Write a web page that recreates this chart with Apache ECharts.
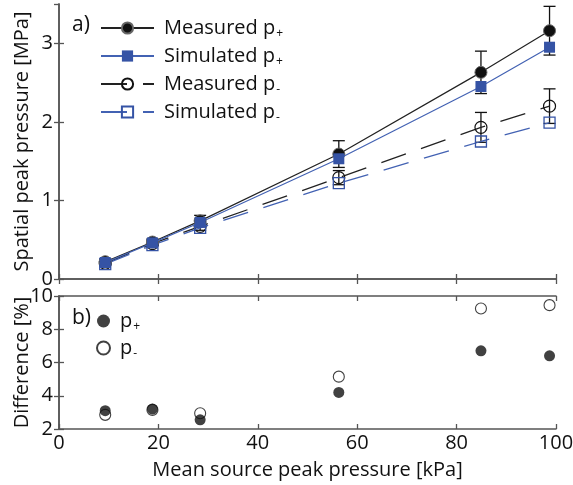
<!DOCTYPE html>
<html><head><meta charset="utf-8">
<script src="https://cdn.jsdelivr.net/npm/echarts@6/dist/echarts.min.js"></script>
<style>html,body{margin:0;padding:0;background:#fff}#c{width:573px;height:485px}</style>
</head><body><div id="c"></div>
<script>
// ---- data ----
const xVals = [9.3, 18.8, 28.4, 56.3, 84.9, 98.7];
const measPlus = [0.22, 0.47, 0.74, 1.59, 2.63, 3.16];
const simPlus = [0.21, 0.46, 0.72, 1.53, 2.45, 2.95];
const measMinus = [0.20, 0.45, 0.67, 1.29, 1.93, 2.20];
const simMinus = [0.19, 0.43, 0.65, 1.22, 1.75, 1.99];
const measPlusErr = [0.03, 0.04, 0.07, 0.17, 0.27, 0.31];
const measMinusErr = [0.02, 0.03, 0.05, 0.09, 0.19, 0.22];
const diffPlus = [3.1, 3.2, 2.55, 4.2, 6.7, 6.4];
const diffMinus = [2.85, 3.15, 2.95, 5.15, 9.25, 9.45];
const xTicks = [0, 20, 40, 60, 80, 100];
const topYTicks = [0, 1, 2, 3];
const botYTicks = [2, 4, 6, 8, 10];

const FONT = 'Open Sans';
const FS = 20;
const BLUE = '#3553a5';
const LBLUE = '#4362b3';
const AX = '#555';
const pair = (xs, ys) => xs.map((x, i) => [x, ys[i]]);
const errData = (ys, es) => xVals.map((x, i) => [x, ys[i] - es[i], ys[i] + es[i]]);

function errRender(params, api) {
  const x = api.value(0);
  const lo = api.coord([x, api.value(1)]);
  const hi = api.coord([x, api.value(2)]);
  const w = 6;
  const st = { stroke: '#111', lineWidth: 1.3 };
  return { type: 'group', children: [
    { type: 'line', shape: { x1: lo[0], y1: lo[1], x2: hi[0], y2: hi[1] }, style: st },
    { type: 'line', shape: { x1: lo[0] - w, y1: lo[1], x2: lo[0] + w, y2: lo[1] }, style: st },
    { type: 'line', shape: { x1: hi[0] - w, y1: hi[1], x2: hi[0] + w, y2: hi[1] }, style: st }
  ]};
}

const axLine = { show: true, lineStyle: { color: AX, width: 1.5 } };
const tick = { show: true, inside: true, length: 5, lineStyle: { color: AX, width: 1.3 } };
const lbl = { fontFamily: FONT, fontSize: FS, color: '#111' };

function xAx(grid, pos, labels, name) {
  return { type: 'value', gridIndex: grid, position: pos, min: 0, max: 100, interval: 20,
    axisLine: axLine, axisTick: tick, splitLine: { show: false },
    axisLabel: Object.assign({ show: labels, margin: 4 }, lbl),
    name: name || '', nameLocation: 'middle', nameGap: 31, nameMoveOverlap: false,
    nameTextStyle: { fontFamily: FONT, fontSize: FS, color: '#111' } };
}
function yAx(grid, pos, min, max, interval, labels, name, gap) {
  return { type: 'value', gridIndex: grid, position: pos, min: min, max: max, interval: interval,
    axisLine: axLine, axisTick: tick, splitLine: { show: false },
    axisLabel: Object.assign({ show: labels, margin: 6, showMaxLabel: max !== 3.5 }, lbl),
    name: name || '', nameLocation: 'middle', nameGap: gap || 30, nameRotate: 90, nameMoveOverlap: false,
    nameTextStyle: { fontFamily: FONT, fontSize: FS, color: '#111' } };
}

const rich = {
  a: { fontFamily: FONT, fontSize: FS, color: '#111', padding: [0, 0, 0, 5] },
  s: { fontFamily: FONT, fontSize: 12, color: '#111', padding: [12, 0, 0, 1] }
};
const fmt = n => {
  const m = n.match(/^(.*p)(.)$/);
  return '{a|' + m[1] + '}{s|' + m[2] + '}';
};

const chart = echarts.init(document.getElementById('c'), null, { renderer: 'canvas' });
chart.setOption({
  animation: false,
  backgroundColor: '#fff',
  title: [
    { text: 'a)', left: 67, top: 10, textStyle: { fontFamily: FONT, fontSize: 21, fontWeight: 'normal', color: '#111' } },
    { text: 'b)', left: 67, top: 303, textStyle: { fontFamily: FONT, fontSize: 21, fontWeight: 'normal', color: '#111' } }
  ],
  grid: [
    { left: 59, right: 17, top: 4, height: 275, outerBoundsMode: 'none', containLabel: false },
    { left: 59, right: 17, top: 296, height: 133, outerBoundsMode: 'none', containLabel: false }
  ],
  xAxis: [
    xAx(0, 'bottom', false), xAx(0, 'top', false),
    xAx(1, 'bottom', true, 'Mean source peak pressure [kPa]'), xAx(1, 'top', false)
  ],
  yAxis: [
    yAx(0, 'left', 0, 3.5, 1, true, 'Spatial peak pressure [MPa]', 27), yAx(0, 'right', 0, 3.5, 1, false),
    yAx(1, 'left', 2, 10, 2, true, 'Difference [%]', 27), yAx(1, 'right', 2, 10, 2, false)
  ],
  legend: [
    { data: ['Measured p+', 'Simulated p+', 'Measured p-', 'Simulated p-'],
      orient: 'vertical', left: 95, top: 12, itemWidth: 53, itemHeight: 14, itemGap: 5,
      formatter: fmt, textStyle: { rich: rich, lineHeight: 22 } },
    { data: ['p+', 'p-'], orient: 'vertical', left: 91, top: 305, itemWidth: 13, itemHeight: 13, itemGap: 4,
      formatter: fmt, textStyle: { rich: rich, lineHeight: 22 } }
  ],
  series: [
    { type: 'custom', xAxisIndex: 0, yAxisIndex: 0, renderItem: errRender, data: errData(measPlus, measPlusErr), z: 1, silent: true },
    { type: 'custom', xAxisIndex: 0, yAxisIndex: 0, renderItem: errRender, data: errData(measMinus, measMinusErr), z: 1, silent: true },
    { name: 'Measured p-', type: 'line', xAxisIndex: 0, yAxisIndex: 0, data: pair(xVals, measMinus),
      symbol: 'circle', symbolSize: 12,
      itemStyle: { color: 'rgba(0,0,0,0)', borderColor: '#111', borderWidth: 1.2 },
      lineStyle: { color: '#222', width: 1.3, type: [26, 16] }, z: 2 },
    { name: 'Simulated p-', type: 'line', xAxisIndex: 0, yAxisIndex: 0, data: pair(xVals, simMinus),
      symbol: 'rect', symbolSize: 11,
      itemStyle: { color: 'rgba(0,0,0,0)', borderColor: BLUE, borderWidth: 1.3 },
      lineStyle: { color: LBLUE, width: 1.3, type: [26, 16] }, z: 3 },
    { name: 'Measured p+', type: 'line', xAxisIndex: 0, yAxisIndex: 0, data: pair(xVals, measPlus),
      symbol: 'circle', symbolSize: 12,
      itemStyle: { color: '#111', borderColor: '#666', borderWidth: 1 },
      lineStyle: { color: '#222', width: 1.2 }, z: 4 },
    { name: 'Simulated p+', type: 'line', xAxisIndex: 0, yAxisIndex: 0, data: pair(xVals, simPlus),
      symbol: 'rect', symbolSize: 11,
      itemStyle: { color: BLUE },
      lineStyle: { color: LBLUE, width: 1.2 }, z: 5 },
    { name: 'p-', type: 'scatter', xAxisIndex: 2, yAxisIndex: 2, data: pair(xVals, diffMinus),
      symbol: 'circle', symbolSize: 11,
      itemStyle: { color: '#fff', borderColor: '#111', borderWidth: 1.1 }, z: 2 },
    { name: 'p+', type: 'scatter', xAxisIndex: 2, yAxisIndex: 2, data: pair(xVals, diffPlus),
      symbol: 'circle', symbolSize: 11,
      itemStyle: { color: '#111' }, z: 3 }
  ]
});
</script></body></html>
